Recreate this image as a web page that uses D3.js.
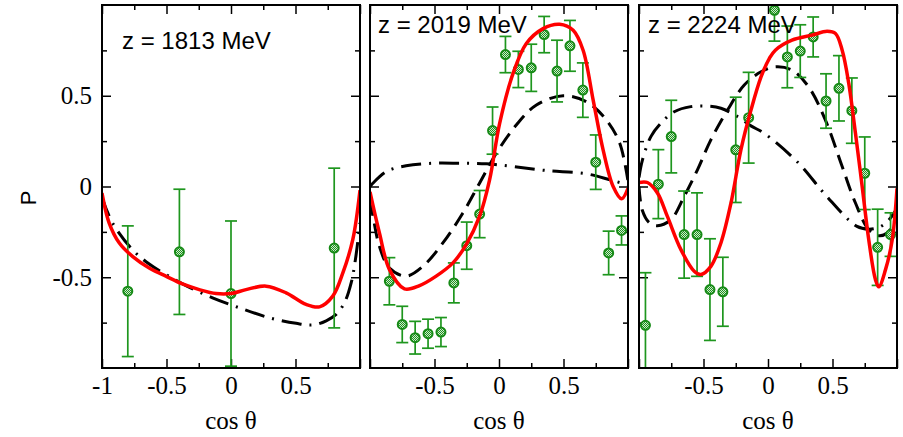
<!DOCTYPE html>
<html>
<head>
<meta charset="utf-8">
<script src="https://cdn.jsdelivr.net/npm/d3@7"></script>
<style>
  body { margin: 0; background: #fff; }
  svg { display: block; }
</style>
</head>
<body>
<figure id="chart" style="margin:0"></figure>
<script>
// panel titles
const panelTitles = ["z = 1813 MeV", "z = 2019 MeV", "z = 2224 MeV"];

// data points: cos theta, P, error
const p1Cos = [-0.8, -0.4, 0, 0.8];
const p1Val = [-0.577, -0.36, -0.59, -0.339];
const p1Err = [0.36, 0.345, 0.40, 0.44];

const p2Cos = [-0.85, -0.75, -0.65, -0.55, -0.45, -0.35, -0.25, -0.15, -0.05, 0.05, 0.15, 0.25, 0.35, 0.45, 0.55, 0.65, 0.75, 0.85, 0.95];
const p2Val = [-0.522, -0.76, -0.833, -0.811, -0.802, -0.531, -0.326, -0.152, 0.308, 0.727, 0.645, 0.654, 0.837, 0.636, 0.775, 0.531, 0.134, -0.366, -0.242];
const p2Err = [0.13, 0.10, 0.09, 0.08, 0.08, 0.11, 0.13, 0.13, 0.13, 0.10, 0.10, 0.13, 0.10, 0.17, 0.14, 0.15, 0.15, 0.12, 0.08];

const p3Cos = [-0.95, -0.85, -0.75, -0.65, -0.55, -0.45, -0.35, -0.25, -0.15, 0.05, 0.15, 0.25, 0.35, 0.45, 0.55, 0.65, 0.75, 0.85, 0.95];
const p3Val = [-0.765, 0.013, 0.275, -0.265, -0.265, -0.568, -0.58, 0.202, 0.379, 0.971, 0.714, 0.746, 0.824, 0.471, 0.541, 0.418, 0.073, -0.335, -0.265];
const p3Err = [0.29, 0.19, 0.20, 0.24, 0.23, 0.28, 0.19, 0.29, 0.25, 0.17, 0.17, 0.145, 0.11, 0.15, 0.18, 0.18, 0.20, 0.21, 0.12];

// model curves [cos theta, P]
const p1Red = [[-1,-0.036],[-0.945,-0.2],[-0.867,-0.31],[-0.764,-0.385],[-0.634,-0.449],[-0.505,-0.494],[-0.376,-0.537],[-0.246,-0.568],[-0.116,-0.59],[0,-0.59],[0.116,-0.568],[0.272,-0.549],[0.427,-0.586],[0.582,-0.65],[0.686,-0.663],[0.789,-0.604],[0.867,-0.476],[0.944,-0.293],[1,-0.02]];
const p1DashDot = [[-1,-0.06],[-0.919,-0.2],[-0.764,-0.348],[-0.634,-0.427],[-0.505,-0.485],[-0.349,-0.546],[-0.143,-0.613],[0.064,-0.668],[0.297,-0.723],[0.505,-0.754],[0.634,-0.763],[0.738,-0.74],[0.815,-0.705],[0.88,-0.64],[0.932,-0.53],[0.965,-0.4],[1,-0.2]];

const p2Red = [[-1,-0.03],[-0.927,-0.256],[-0.849,-0.458],[-0.733,-0.564],[-0.616,-0.546],[-0.487,-0.494],[-0.357,-0.421],[-0.254,-0.32],[-0.151,-0.165],[-0.073,0.037],[0.005,0.348],[0.109,0.623],[0.212,0.788],[0.342,0.87],[0.47,0.894],[0.575,0.861],[0.652,0.751],[0.73,0.476],[0.807,0.202],[0.885,0.0],[0.95,-0.068],[1,-0.01]];
const p2Dash = [[-1,-0.08],[-0.978,-0.16],[-0.927,-0.33],[-0.849,-0.449],[-0.72,-0.494],[-0.59,-0.44],[-0.435,-0.311],[-0.28,-0.146],[-0.151,0.018],[-0.021,0.183],[0.134,0.339],[0.29,0.449],[0.497,0.5],[0.678,0.467],[0.833,0.366],[0.936,0.238],[1,0.03]];
const p2DashDot = [[-1,0.0],[-0.978,0.018],[-0.875,0.082],[-0.72,0.114],[-0.512,0.128],[-0.306,0.128],[-0.099,0.125],[0.109,0.11],[0.367,0.088],[0.678,0.07],[0.859,0.037],[1,0.009]];

const p3Red = [[-1,0.022],[-0.935,0.022],[-0.857,-0.036],[-0.78,-0.165],[-0.675,-0.348],[-0.572,-0.467],[-0.52,-0.485],[-0.443,-0.44],[-0.365,-0.311],[-0.287,-0.091],[-0.21,0.202],[-0.132,0.421],[-0.054,0.604],[0.01,0.705],[0.057,0.751],[0.186,0.806],[0.342,0.834],[0.458,0.855],[0.523,0.843],[0.575,0.751],[0.626,0.568],[0.678,0.293],[0.73,0.0],[0.781,-0.293],[0.833,-0.513],[0.859,-0.553],[0.911,-0.458],[0.963,-0.293],[1,-0.01]];
const p3Dash = [[-1,0.0],[-0.975,-0.13],[-0.92,-0.2],[-0.857,-0.216],[-0.753,-0.183],[-0.65,-0.055],[-0.547,0.092],[-0.443,0.257],[-0.314,0.421],[-0.184,0.559],[-0.054,0.632],[0.057,0.659],[0.186,0.641],[0.315,0.549],[0.445,0.366],[0.575,0.11],[0.678,-0.091],[0.781,-0.238],[0.859,-0.271],[0.924,-0.256],[0.975,-0.201],[1,-0.15]];
const p3DashDot = [[-1,0.05],[-0.973,0.147],[-0.908,0.275],[-0.831,0.348],[-0.727,0.412],[-0.598,0.44],[-0.469,0.443],[-0.365,0.431],[-0.236,0.385],[-0.132,0.334],[-0.029,0.293],[0.238,0.128],[0.445,-0.046],[0.69,-0.22],[0.78,-0.235],[0.86,-0.225],[0.93,-0.19],[1,-0.12]];

const xMajor = [-1, -0.5, 0, 0.5, 1];
const xMinor = [-0.75, -0.25, 0.25, 0.75];
const yMajor = [-0.5, 0, 0.5];
const yMinor = [-0.75, -0.25, 0.25, 0.75];

const width = 903, height = 437;
const yTop = 5, yBottom = 368;
const panelLeft = [102, 370, 639];
const panelW = 258;
const green = "#1e961e";
const serif = "'Liberation Serif', 'Times New Roman', serif";
const sans = "'Liberation Sans', Arial, sans-serif";

const panels = [
  {cos: p1Cos, val: p1Val, err: p1Err, red: p1Red, dash: null, dashdot: p1DashDot, tx: 122, ty: 49},
  {cos: p2Cos, val: p2Val, err: p2Err, red: p2Red, dash: p2Dash, dashdot: p2DashDot, tx: 378, ty: 33},
  {cos: p3Cos, val: p3Val, err: p3Err, red: p3Red, dash: p3Dash, dashdot: p3DashDot, tx: 648, ty: 33}
];

const svg = d3.select("#chart").append("svg")
  .attr("width", width)
  .attr("height", height);

svg.append("rect").attr("width", width).attr("height", height).attr("fill", "#fff");

const defs = svg.append("defs");
const pat = defs.append("pattern")
  .attr("id", "hatch")
  .attr("patternUnits", "userSpaceOnUse")
  .attr("width", 2).attr("height", 2);
pat.append("rect").attr("width", 2).attr("height", 2).attr("fill", "#cfe8cf");
pat.append("rect").attr("width", 1).attr("height", 1).attr("fill", green);
pat.append("rect").attr("x", 1).attr("y", 1).attr("width", 1).attr("height", 1).attr("fill", green);

const y = d3.scaleLinear().domain([-1, 1]).range([yBottom, yTop]);
const fmt = d => d === 0 ? "0" : String(d);

panels.forEach((p, i) => {
  const x = d3.scaleLinear().domain([-1, 1]).range([panelLeft[i], panelLeft[i] + panelW]);
  const g = svg.append("g");

  defs.append("clipPath").attr("id", "clip" + i)
    .append("rect")
    .attr("x", panelLeft[i]).attr("y", yTop)
    .attr("width", panelW).attr("height", yBottom - yTop);

  // ticks, all pointing inwards
  const addAxis = (axis, tx, ty, labels) => {
    const a = g.append("g").attr("transform", `translate(${tx},${ty})`).call(axis);
    a.select(".domain").remove();
    a.selectAll("line").attr("stroke", "#000").attr("stroke-width", 1.5);
    if (!labels) a.selectAll("text").remove();
    return a;
  };
  const xLabels = i === 0 ? [-1, -0.5, 0, 0.5] : [-0.5, 0, 0.5];
  const bx = addAxis(d3.axisBottom(x).tickValues(xMajor).tickSize(-9).tickPadding(8)
      .tickFormat(d => xLabels.includes(d) ? fmt(d) : ""), 0, yBottom, true);
  bx.selectAll("text").attr("font-family", serif).attr("font-size", 25).attr("fill", "#000");
  addAxis(d3.axisBottom(x).tickValues(xMinor).tickSize(-5), 0, yBottom, false);
  addAxis(d3.axisTop(x).tickValues(xMajor).tickSize(-9), 0, yTop, false);
  addAxis(d3.axisTop(x).tickValues(xMinor).tickSize(-5), 0, yTop, false);
  const ly = addAxis(d3.axisLeft(y).tickValues(yMajor).tickSize(-9).tickPadding(10).tickFormat(fmt),
      panelLeft[i], 0, i === 0);
  ly.selectAll("text").attr("font-family", serif).attr("font-size", 25).attr("fill", "#000");
  addAxis(d3.axisLeft(y).tickValues(yMinor).tickSize(-5), panelLeft[i], 0, false);
  addAxis(d3.axisRight(y).tickValues(yMajor).tickSize(-9), panelLeft[i] + panelW, 0, false);
  addAxis(d3.axisRight(y).tickValues(yMinor).tickSize(-5), panelLeft[i] + panelW, 0, false);

  const plot = g.append("g").attr("clip-path", `url(#clip${i})`);
  const line = d3.line()
    .x(d => x(d[0]))
    .y(d => y(d[1]))
    .curve(d3.curveCatmullRom.alpha(0.5));

  if (p.dashdot) {
    plot.append("path").datum(p.dashdot)
      .attr("fill", "none").attr("stroke", "#000").attr("stroke-width", 3)
      .attr("stroke-dasharray", "20,8,2,8")
      .attr("d", line);
  }
  if (p.dash) {
    plot.append("path").datum(p.dash)
      .attr("fill", "none").attr("stroke", "#000").attr("stroke-width", 3)
      .attr("stroke-dasharray", "15,8")
      .attr("d", line);
  }

  // error bars + markers
  const pts = p.cos.map((c, k) => ({c: c, v: p.val[k], e: p.err[k]}));
  const eb = plot.selectAll("g.pt").data(pts).enter().append("g")
    .attr("stroke", green).attr("stroke-width", 1.7);
  eb.append("line")
    .attr("x1", d => x(d.c)).attr("x2", d => x(d.c))
    .attr("y1", d => y(d.v - d.e)).attr("y2", d => y(d.v + d.e));
  eb.append("line")
    .attr("x1", d => x(d.c) - 6).attr("x2", d => x(d.c) + 6)
    .attr("y1", d => y(d.v + d.e)).attr("y2", d => y(d.v + d.e));
  eb.append("line")
    .attr("x1", d => x(d.c) - 6).attr("x2", d => x(d.c) + 6)
    .attr("y1", d => y(d.v - d.e)).attr("y2", d => y(d.v - d.e));
  eb.append("circle")
    .attr("cx", d => x(d.c)).attr("cy", d => y(d.v)).attr("r", 4.5)
    .attr("stroke", "#168a16").attr("stroke-width", 2)
    .attr("fill", "url(#hatch)");

  plot.append("path").datum(p.red)
    .attr("fill", "none").attr("stroke", "#ff0000").attr("stroke-width", 3.5)
    .attr("d", line);

  g.append("rect")
    .attr("x", panelLeft[i]).attr("y", yTop)
    .attr("width", panelW).attr("height", yBottom - yTop)
    .attr("fill", "none").attr("stroke", "#000").attr("stroke-width", 2);

  g.append("text")
    .attr("x", p.tx).attr("y", p.ty)
    .attr("font-family", sans).attr("font-size", 24)
    .text(panelTitles[i]);

  g.append("text")
    .attr("x", panelLeft[i] + panelW / 2).attr("y", 429)
    .attr("text-anchor", "middle")
    .attr("font-family", serif).attr("font-size", 25)
    .text("cos \u03b8");
});

svg.append("text")
  .attr("transform", "translate(36,198) rotate(-90)")
  .attr("text-anchor", "middle")
  .attr("font-family", sans).attr("font-size", 22)
  .text("P");
</script>
</body>
</html>
